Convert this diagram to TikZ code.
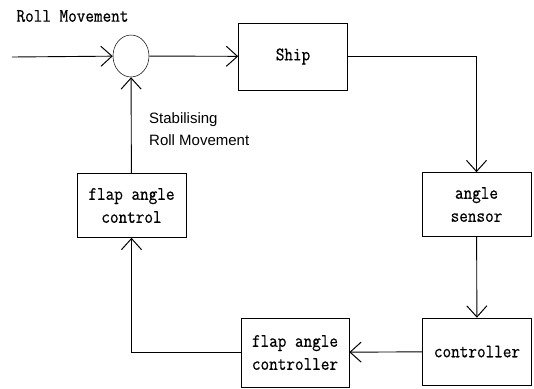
\documentclass[tikz,border=0pt]{standalone}
\usepackage{fontspec}
\newfontfamily\labelfont{Liberation Sans}
\newfontfamily\boxfont{Latin Modern Mono}[FakeStretch=0.88,FakeBold=0.6]
\usetikzlibrary{arrows.meta}
\usetikzlibrary{shapes.geometric}

\begin{document}
\begin{tikzpicture}[x=1pt,y=-1pt,
	block/.style={draw,line width=0.6pt,minimum width=109pt,minimum height=64pt,inner sep=0pt,align=center,font=\fontsize{19}{23}\selectfont\boxfont},
	flow/.style={line width=0.9pt,-{Straight Barb[angle=84:15pt,line width=1pt]}}]
			\useasboundingbox (0,0) rectangle (534,388);
			% summing point and the blocks of the loop
			\node [draw,ellipse,line width=0.5pt,minimum width=36pt,minimum height=42pt,inner sep=0pt] (sum) at (131,56) {};
			\node [block,minimum height=67pt] (ship) at (293,56.5) {Ship};
			\node [block] (sensor) at (476.5,204.5) {angle\\sensor};
			\node [block,minimum height=67pt] (ctrl) at (477,351.5) {controller};
			\node [block,minimum width=108pt,minimum height=69pt] (flapctrl) at (295,352.5) {flap angle\\controller};
			\node [block] (flap) at (131.5,205.5) {flap angle\\control};
			% texts
			\node [anchor=west,font=\fontsize{19}{20}\selectfont\boxfont] (roll) at (13,16) {Roll Movement};
			\node [anchor=north west,align=left,inner sep=0pt,font=\fontsize{15}{22}\selectfont\labelfont] (stab) at (149,112) {Stabilising\\Roll Movement};
			% signal lines
			\coordinate (in) at (12,57);
			\draw [flow] (in) -- (sum);
			\draw [flow] (sum) -- (ship);
			\draw [flow] (ship.east) -| (sensor.north);
			\draw [flow] (sensor) -- (ctrl);
			\draw [flow] (ctrl) -- (flapctrl);
			\draw [flow] (flapctrl.west) -| (flap.south);
			\draw [flow] (flap) -- (sum);
		\end{tikzpicture}
\end{document}
